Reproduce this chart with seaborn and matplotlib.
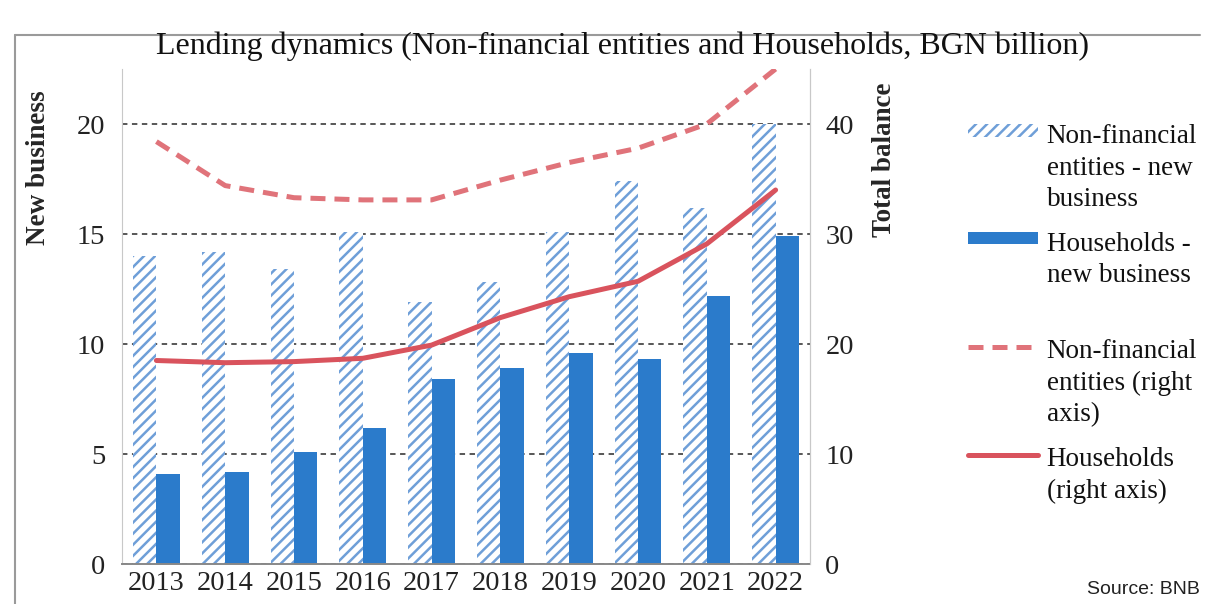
import numpy as np
import pandas as pd
import matplotlib
matplotlib.use('Agg')
import matplotlib.pyplot as plt
import seaborn as sns
from matplotlib.patches import Patch
from matplotlib.lines import Line2D
from matplotlib.ticker import FixedLocator

# ---- data ----
years = ['2013', '2014', '2015', '2016', '2017', '2018', '2019', '2020', '2021', '2022']
nf_new = [14.0, 14.2, 13.4, 15.1, 11.9, 12.8, 15.1, 17.4, 16.2, 20.0]
hh_new = [4.1, 4.2, 5.1, 6.2, 8.4, 8.9, 9.6, 9.3, 12.2, 14.9]
nf_total = [38.4, 34.4, 33.3, 33.1, 33.1, 34.9, 36.5, 37.8, 40.0, 45.0]
hh_total = [18.5, 18.3, 18.4, 18.7, 19.9, 22.4, 24.3, 25.7, 29.1, 34.0]
left_ticks = [0, 5, 10, 15, 20]
right_ticks = [0, 10, 20, 30, 40]

lab_nf_bar = 'Non-financial\nentities - new\nbusiness'
lab_hh_bar = 'Households -\nnew business\n'
lab_nf_line = 'Non-financial\nentities (right\naxis)'
lab_hh_line = 'Households\n(right axis)\n'

NF_C = '#6f9fd8'
HH_C = '#2b7bcb'
NF_LINE = '#e0737a'
HH_LINE = '#d9535d'

sns.set_style('white')
plt.rcParams['font.family'] = ['Liberation Serif', 'DejaVu Serif']
plt.rcParams['hatch.linewidth'] = 1.8

W, H = 1210, 604
fig = plt.figure(figsize=(W / 100, H / 100), dpi=100)
ax = fig.add_axes([122 / W, 40 / H, 688 / W, 495 / H])

df = pd.DataFrame({
    'year': years * 2,
    'value': nf_new + hh_new,
    'series': ['nf'] * len(years) + ['hh'] * len(years),
})
sns.barplot(data=df, x='year', y='value', hue='series', hue_order=['nf', 'hh'],
            order=years, palette=[NF_C, HH_C], width=0.68, saturation=1,
            ax=ax, legend=False, linewidth=0)
for p in ax.patches[:len(years)]:
    p.set_facecolor('white')
    p.set_edgecolor(NF_C)
    p.set_hatch('///')
    p.set_linewidth(0)
for p in ax.patches[len(years):]:
    p.set_linewidth(0)

ax.set_ylim(0, 22.5)
ax.set_xlim(-0.5, len(years) - 0.5)
ax.set_yticks(left_ticks)
ax.set_axisbelow(True)
ax.yaxis.grid(True, linestyle=(0, (3, 2.5)), color='#4a4a4a', lw=1.3)
ax.xaxis.grid(False)
ax.set_xlabel('')
ax.set_ylabel('New business', fontsize=19.5, fontweight='bold')
ax.yaxis.set_label_coords(-0.122, 0.80)
ax.yaxis.label.set(ha='center', va='center', rotation_mode='anchor')
ax.tick_params(axis='y', length=0, pad=12, labelsize=20.5, colors='#222222')
ax.tick_params(axis='x', which='major', length=0, pad=5, labelsize=20.5, colors='#222222')
ax.xaxis.set_minor_locator(FixedLocator(np.arange(-0.5, len(years), 1.0)))
ax.tick_params(axis='x', which='minor', length=6, width=1.2, color='#888888', direction='out')
ax.spines['top'].set_visible(False)
ax.spines['left'].set_color('#c8c8c8')
ax.spines['right'].set_color('#c8c8c8')
ax.spines['bottom'].set_color('#888888')
ax.spines['bottom'].set_linewidth(1.4)

ax2 = ax.twinx()
xs = np.arange(len(years))
sns.lineplot(x=xs, y=nf_total, ax=ax2, color=NF_LINE, lw=3.6)
sns.lineplot(x=xs, y=hh_total, ax=ax2, color=HH_LINE, lw=3.6)
ax2.lines[0].set_linestyle((0, (3, 1.8)))
ax2.set_ylim(0, 45)
ax2.set_xlim(-0.5, len(years) - 0.5)
ax2.set_yticks(right_ticks)
ax2.tick_params(axis='y', length=0, pad=11, labelsize=20.5, colors='#222222')
ax2.set_ylabel('Total balance', fontsize=19.5, fontweight='bold')
ax2.yaxis.set_label_coords(1.108, 0.816)
ax2.yaxis.label.set(ha='center', va='center', rotation=90, rotation_mode='anchor')
for s in ['top', 'left', 'bottom']:
    ax2.spines[s].set_visible(False)
ax2.spines['right'].set_color('#c8c8c8')
ax2.grid(False)

fig.text(622 / W, 1 - 46 / H,
         'Lending dynamics (Non-financial entities and Households, BGN billion)',
         ha='center', va='center', fontsize=23, color='#111111')

handles = [
    Patch(facecolor='white', edgecolor=NF_C, hatch='///', lw=0),
    Patch(facecolor=HH_C, lw=0),
    Line2D([], [], color=NF_LINE, lw=3.6, linestyle=(0, (3, 1.8))),
    Line2D([], [], color=HH_LINE, lw=3.6),
]
leg = fig.legend(handles, [lab_nf_bar, lab_hh_bar, lab_nf_line, lab_hh_line],
                 loc='upper left', bbox_to_anchor=(968 / W, 1 - 124 / H),
                 frameon=False, fontsize=19.5, handlelength=2.6, handleheight=0.35,
                 handletextpad=0.3, labelspacing=0.71, borderpad=0, borderaxespad=0)
for t in leg.get_texts():
    t.set_linespacing(1.35)
    t.set_color('#111111')
for col in leg._legend_handle_box.get_children():
    for row in col.get_children():
        row.align = 'top'

fig.text(1200 / W, 1 - 590 / H, 'Source: BNB', ha='right', va='center',
         fontsize=14, family=['Liberation Sans', 'DejaVu Sans'], color='#222222')

fig.add_artist(Line2D([15 / W, 1200 / W], [1 - 35 / H] * 2, transform=fig.transFigure,
                      color='#9a9a9a', lw=1.5))
fig.add_artist(Line2D([15 / W, 15 / W], [0, 1 - 35 / H], transform=fig.transFigure,
                      color='#9a9a9a', lw=1.5))

fig.savefig('out.png', dpi=100)
